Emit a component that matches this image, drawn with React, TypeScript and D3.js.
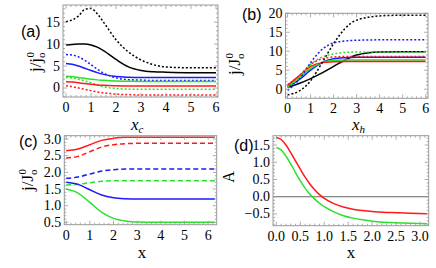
import React from 'react';
import * as d3 from 'd3';

// panel (a)
const xsA = [0, 0.25, 0.5, 0.75, 1, 1.25, 1.5, 2, 2.5, 3, 3.5, 4, 5, 6];
const aBlackDot = [15.1, 15.5, 16.4, 17.9, 18.1, 16.9, 15.0, 11.0, 8.2, 6.4, 5.3, 4.8, 4.6, 4.6];
const aBlack = [9.8, 9.9, 10.0, 10.0, 9.8, 9.3, 8.5, 6.5, 4.8, 4.0, 3.7, 3.6, 3.5, 3.5];
const aBlueDot = [7.6, 7.5, 7.1, 6.3, 5.3, 4.3, 3.4, 2.3, 1.9, 1.8, 1.7, 1.7, 1.7, 1.7];
const aBlue = [5.6, 5.4, 5.0, 4.5, 4.0, 3.5, 3.1, 2.6, 2.45, 2.4, 2.4, 2.4, 2.4, 2.4];
const aGreen = [2.7, 2.6, 2.4, 2.2, 2.0, 1.85, 1.75, 1.6, 1.55, 1.5, 1.5, 1.5, 1.5, 1.5];
const aGreenDot = [2.4, 2.3, 2.0, 1.6, 1.2, 0.7, 0.3, -0.1, -0.25, -0.3, -0.3, -0.3, -0.3, -0.3];
const aRed = [1.4, 1.35, 1.2, 1.0, 0.85, 0.7, 0.6, 0.5, 0.45, 0.45, 0.45, 0.45, 0.45, 0.45];
const aRedDot = [0.5, 0.3, 0.0, -0.3, -0.6, -0.9, -1.1, -1.4, -1.5, -1.6, -1.6, -1.6, -1.6, -1.6];

// panel (b)
const xsB = [0, 0.5, 1, 1.5, 2, 2.5, 3, 4, 5, 6];
const bBlackDot = [-1.5, -0.5, 2.2, 7.0, 12.0, 16.0, 18.2, 19.3, 19.5, 19.5];
const bBlueDot = [-0.3, 2.5, 7.0, 10.5, 12.2, 12.7, 12.9, 13.0, 13.0, 13.0];
const bGreenDot = [0.5, 3.0, 6.5, 8.5, 9.3, 9.7, 9.8, 9.8, 9.8, 9.8];
const bRedDot = [1.2, 3.5, 6.5, 8.0, 8.5, 8.6, 8.6, 8.6, 8.6, 8.6];
const bBlack = [0.5, 1.5, 2.8, 4.3, 6.0, 7.7, 9.0, 9.8, 9.9, 9.9];
const bBlue = [0.6, 2.5, 5.0, 7.0, 8.0, 8.3, 8.4, 8.4, 8.4, 8.4];
const bGreen = [0.8, 3.0, 5.5, 7.0, 7.6, 7.7, 7.7, 7.7, 7.7, 7.7];
const bRed = [1.0, 3.5, 6.0, 7.0, 7.2, 7.3, 7.3, 7.3, 7.3, 7.3];

// panel (c)
const xsC = [0, 0.5, 1, 1.5, 2, 2.5, 3, 4, 5, 6.28];
const cRed = [2.65, 2.7, 2.83, 2.96, 3.02, 3.05, 3.05, 3.05, 3.05, 3.05];
const cRedDash = [2.43, 2.48, 2.62, 2.76, 2.83, 2.86, 2.87, 2.87, 2.87, 2.87];
const cBlueDash = [1.82, 1.86, 1.95, 2.04, 2.08, 2.1, 2.1, 2.1, 2.1, 2.1];
const cGreenDash = [1.62, 1.64, 1.69, 1.73, 1.75, 1.75, 1.75, 1.75, 1.75, 1.75];
const cBlue = [1.7, 1.64, 1.48, 1.32, 1.24, 1.21, 1.2, 1.2, 1.2, 1.2];
const cGreen = [1.5, 1.38, 1.1, 0.8, 0.62, 0.54, 0.51, 0.5, 0.5, 0.5];

// panel (d)
const xsD = [0, 0.1, 0.2, 0.3, 0.4, 0.5, 0.6, 0.7, 0.8, 0.9, 1.0, 1.2, 1.4, 1.6, 1.8, 2.0, 2.4, 2.8, 3.15];
const dRed = [1.72, 1.66, 1.5, 1.28, 1.04, 0.8, 0.57, 0.37, 0.2, 0.06, -0.05, -0.2, -0.3, -0.36, -0.4, -0.43, -0.46, -0.48, -0.49];
const dGreen = [1.43, 1.36, 1.18, 0.95, 0.7, 0.46, 0.25, 0.07, -0.07, -0.19, -0.29, -0.44, -0.55, -0.62, -0.67, -0.71, -0.75, -0.77, -0.78];

const RED = '#ff1a1a';
const GREEN = '#2be02b';
const BLUE = '#1a1aff';
const BLACK = '#000';
const FRAME = '#999';
const FONT = 'Liberation Serif, Times New Roman, DejaVu Serif, serif';
const SANS = 'Liberation Sans, Arial, sans-serif';

type Series = { xs: number[]; ys: number[]; color: string; dash?: string };

type PanelProps = {
  id: string;
  x0: number; x1: number; y0: number; y1: number;
  xDomain: [number, number]; yDomain: [number, number];
  xTicks: number[]; yTicks: number[];
  xMinor: number; yMinor: number;
  xFmt: (v: number) => string; yFmt: (v: number) => string;
  series: Series[];
  zeroLine?: boolean;
};

function Panel(p: PanelProps) {
  const x = d3.scaleLinear().domain(p.xDomain).range([p.x0, p.x1]);
  const y = d3.scaleLinear().domain(p.yDomain).range([p.y1, p.y0]);
  const minorX = d3.range(Math.ceil(p.xDomain[0] / p.xMinor), Math.floor(p.xDomain[1] / p.xMinor) + 1).map(i => i * p.xMinor);
  const minorY = d3.range(Math.ceil(p.yDomain[0] / p.yMinor), Math.floor(p.yDomain[1] / p.yMinor) + 1).map(i => i * p.yMinor);
  const isMajor = (v: number, arr: number[]) => arr.some(t => Math.abs(t - v) < 1e-6);
  const line = (s: Series) =>
    d3.line<number>().x((_, i) => x(s.xs[i])).y(v => y(v)).curve(d3.curveMonotoneX)(s.ys) || '';
  return (
    <g>
      <defs>
        <clipPath id={`clip-${p.id}`}>
          <rect x={p.x0} y={p.y0} width={p.x1 - p.x0} height={p.y1 - p.y0} />
        </clipPath>
      </defs>
      {p.zeroLine && (
        <line x1={p.x0} x2={p.x1} y1={y(0)} y2={y(0)} stroke="#666" strokeWidth={1} />
      )}
      <g clipPath={`url(#clip-${p.id})`}>
        {p.series.map((s, i) => (
          <path key={i} d={line(s)} fill="none" stroke={s.color} strokeWidth={1.5} strokeDasharray={s.dash} />
        ))}
      </g>
      <rect x={p.x0} y={p.y0} width={p.x1 - p.x0} height={p.y1 - p.y0} fill="none" stroke={FRAME} strokeWidth={1} />
      {minorX.map((v, i) => {
        const len = isMajor(v, p.xTicks) ? 4 : 2;
        return (
          <g key={'mx' + i} stroke={FRAME} strokeWidth={0.8}>
            <line x1={x(v)} x2={x(v)} y1={p.y1} y2={p.y1 - len} />
            <line x1={x(v)} x2={x(v)} y1={p.y0} y2={p.y0 + len} />
          </g>
        );
      })}
      {minorY.map((v, i) => {
        const len = isMajor(v, p.yTicks) ? 4 : 2;
        return (
          <g key={'my' + i} stroke={FRAME} strokeWidth={0.8}>
            <line x1={p.x0} x2={p.x0 + len} y1={y(v)} y2={y(v)} />
            <line x1={p.x1} x2={p.x1 - len} y1={y(v)} y2={y(v)} />
          </g>
        );
      })}
      {p.xTicks.map(v => (
        <text key={'xt' + v} x={x(v)} y={p.y1 + 15} textAnchor="middle" fontSize={14} fontFamily={FONT}>
          {p.xFmt(v)}
        </text>
      ))}
      {p.yTicks.map(v => (
        <text key={'yt' + v} x={p.x0 - 3} y={y(v) + 4.5} textAnchor="end" fontSize={14} fontFamily={FONT}>
          {p.yFmt(v)}
        </text>
      ))}
    </g>
  );
}

const minus = (s: string) => s.replace('-', '\u2212');
const fmt0 = (v: number) => minus(d3.format('d')(v));
const fmt1 = (v: number) => minus(d3.format('.1f')(v));

function JLabel({ x, y, cap }: { x: number; y: number; cap: boolean }) {
  return (
    <text transform={`translate(${x},${y}) rotate(-90)`} textAnchor="middle" fontSize={17} fontFamily={FONT}>
      j/{cap ? 'J' : 'j'}
      <tspan fontSize={11} dy={4}>o</tspan>
      <tspan fontSize={11} dx={-5} dy={-11}>0</tspan>
    </text>
  );
}

export default function App() {
  return (
    <svg width={436} height={268} style={{ position: 'absolute', left: 0, top: 0, background: '#fff' }}>
      <Panel
        id="a" x0={63} x1={218} y0={5} y1={97}
        xDomain={[-0.12, 6.08]} yDomain={[-2.05, 18.9]}
        xTicks={[0, 1, 2, 3, 4, 5, 6]} yTicks={[0, 5, 10, 15]}
        xMinor={0.2} yMinor={1}
        xFmt={fmt0} yFmt={fmt0}
        series={[
          { xs: xsA, ys: aBlackDot, color: BLACK, dash: '2,2' },
          { xs: xsA, ys: aBlack, color: BLACK },
          { xs: xsA, ys: aBlueDot, color: BLUE, dash: '2,2' },
          { xs: xsA, ys: aBlue, color: BLUE },
          { xs: xsA, ys: aGreen, color: GREEN },
          { xs: xsA, ys: aGreenDot, color: GREEN, dash: '2,2' },
          { xs: xsA, ys: aRed, color: RED },
          { xs: xsA, ys: aRedDot, color: RED, dash: '2,2' },
        ]}
      />
      <Panel
        id="b" x0={285.5} x1={428} y0={13.3} y1={98.3}
        xDomain={[-0.09, 6.1]} yDomain={[-2.4, 20]}
        xTicks={[0, 1, 2, 3, 4, 5, 6]} yTicks={[0, 5, 10, 15, 20]}
        xMinor={0.2} yMinor={1}
        xFmt={fmt0} yFmt={fmt0}
        series={[
          { xs: xsB, ys: bBlack, color: BLACK },
          { xs: xsB, ys: bBlue, color: BLUE },
          { xs: xsB, ys: bGreen, color: GREEN },
          { xs: xsB, ys: bRed, color: RED },
          { xs: xsB, ys: bBlackDot, color: BLACK, dash: '2,2' },
          { xs: xsB, ys: bBlueDot, color: BLUE, dash: '2,2' },
          { xs: xsB, ys: bGreenDot, color: GREEN, dash: '2,2' },
          { xs: xsB, ys: bRedDot, color: RED, dash: '2,2' },
        ]}
      />
      <Panel
        id="c" x0={64.3} x1={216.7} y0={135.7} y1={224.7}
        xDomain={[-0.08, 6.36]} yDomain={[0.43, 3.1]}
        xTicks={[0, 1, 2, 3, 4, 5, 6]} yTicks={[0.5, 1, 1.5, 2, 2.5, 3]}
        xMinor={0.2} yMinor={0.1}
        xFmt={fmt0} yFmt={fmt1}
        series={[
          { xs: xsC, ys: cRed, color: RED },
          { xs: xsC, ys: cRedDash, color: RED, dash: '5,3' },
          { xs: xsC, ys: cBlueDash, color: BLUE, dash: '5,3' },
          { xs: xsC, ys: cGreenDash, color: GREEN, dash: '5,3' },
          { xs: xsC, ys: cBlue, color: BLUE },
          { xs: xsC, ys: cGreen, color: GREEN },
        ]}
      />
      <Panel
        id="d" x0={273} x1={428.7} y0={135.7} y1={225.7}
        xDomain={[-0.07, 3.18]} yDomain={[-0.84, 1.77]}
        xTicks={[0, 0.5, 1, 1.5, 2, 2.5, 3]} yTicks={[-0.5, 0, 0.5, 1, 1.5]}
        xMinor={0.1} yMinor={0.1}
        xFmt={fmt1} yFmt={fmt1}
        zeroLine
        series={[
          { xs: xsD, ys: dRed, color: RED },
          { xs: xsD, ys: dGreen, color: GREEN },
        ]}
      />
      {/* panel tags */}
      <text x={21} y={37} fontSize={16} fontFamily={SANS}>(a)</text>
      <text x={242} y={20} fontSize={16} fontFamily={SANS}>(b)</text>
      <text x={19} y={147} fontSize={16} fontFamily={SANS}>(c)</text>
      <text x={234} y={151} fontSize={16} fontFamily={SANS}>(d)</text>
      {/* axis labels */}
      <JLabel x={41} y={62} cap={false} />
      <JLabel x={240} y={64} cap={true} />
      <JLabel x={33} y={180} cap={true} />
      <text transform="translate(234,177) rotate(-90)" textAnchor="middle" fontSize={16} fontFamily={FONT}>A</text>
      <text x={131} y={130} fontSize={17} fontStyle="italic" fontFamily={FONT}>
        x<tspan fontSize={11} dy={3}>c</tspan>
      </text>
      <text x={352} y={130} fontSize={17} fontStyle="italic" fontFamily={FONT}>
        x<tspan fontSize={11} dy={3}>h</tspan>
      </text>
      <text x={142} y={258} textAnchor="middle" fontSize={17} fontFamily={FONT}>x</text>
      <text x={351} y={258} textAnchor="middle" fontSize={17} fontFamily={FONT}>x</text>
    </svg>
  );
}
